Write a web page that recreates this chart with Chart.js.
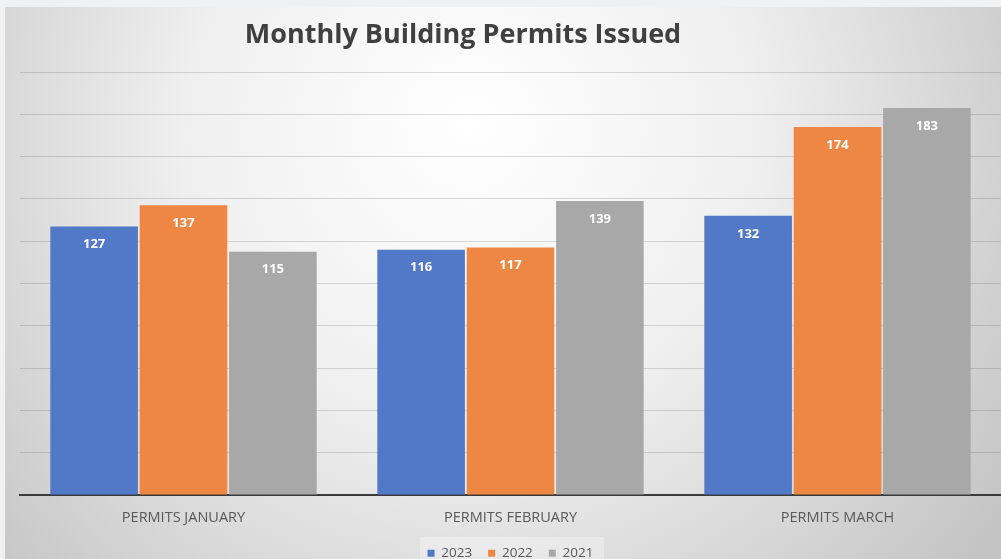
<!DOCTYPE html>
<html>
<head>
<meta charset="utf-8">
<script src="https://cdn.jsdelivr.net/npm/chart.js@4.4.1/dist/chart.umd.min.js"></script>
<style>
  html, body { margin: 0; padding: 0; background: #eef2f3; }
  #wrap { width: 1001px; height: 559px; position: relative; }
</style>
</head>
<body>
<div id="wrap"><canvas id="permitsChart" width="1001" height="559"></canvas></div>
<script>
  // chart data
  const chartTitle = 'Monthly Building Permits Issued';
  const months = ['PERMITS JANUARY', 'PERMITS FEBRUARY', 'PERMITS MARCH'];
  const years = ['2023', '2022', '2021'];
  const permits2023 = [127, 116, 132];
  const permits2022 = [137, 117, 174];
  const permits2021 = [115, 139, 183];
  const barColors = ['#5179c8', '#ed8743', '#a8a8a8'];

  const fontFamily = '"Open Sans", Lato, sans-serif';

  // paints the framed gradient background behind the chart
  const backgroundPlugin = {
    id: 'bgPaint',
    beforeDraw(chart) {
      const ctx = chart.ctx;
      ctx.save();
      ctx.fillStyle = '#eef2f3';
      ctx.fillRect(0, 0, chart.width, chart.height);
      const grad = ctx.createRadialGradient(470, 120, 0, 470, 160, 640);
      grad.addColorStop(0, '#ffffff');
      grad.addColorStop(0.45, '#efefef');
      grad.addColorStop(1, '#c4c4c4');
      ctx.fillStyle = grad;
      ctx.fillRect(5, 7, chart.width - 5, chart.height - 7);
      // lighter strip behind the legend
      ctx.fillStyle = 'rgba(255,255,255,0.3)';
      ctx.fillRect(420, 537, 184, 22);
      ctx.restore();
    }
  };

  // title and the value labels inside the bars
  const textPlugin = {
    id: 'barText',
    afterDatasetsDraw(chart) {
      const ctx = chart.ctx;
      ctx.save();
      ctx.fillStyle = '#404040';
      ctx.font = 'bold 27px ' + fontFamily;
      ctx.textAlign = 'center';
      ctx.textBaseline = 'middle';
      ctx.fillText(chartTitle, 463, 35);

      ctx.fillStyle = '#ffffff';
      ctx.font = 'bold 13px ' + fontFamily;
      chart.data.datasets.forEach((ds, i) => {
        const meta = chart.getDatasetMeta(i);
        meta.data.forEach((bar, j) => {
          ctx.fillText(String(ds.data[j]), bar.x, bar.y + 18);
        });
      });
      ctx.restore();
    }
  };

  function renderPermitsChart() {
    const canvas = document.getElementById('permitsChart');
    const seriesValues = [permits2023, permits2022, permits2021];

    new Chart(canvas, {
      type: 'bar',
      data: {
        labels: months,
        datasets: years.map((year, i) => ({
          label: year,
          data: seriesValues[i],
          backgroundColor: barColors[i],
          borderWidth: 0,
          categoryPercentage: 0.82,
          barPercentage: 0.98
        }))
      },
      options: {
        responsive: false,
        animation: false,
        layout: {
          padding: { left: 20, right: 0, top: 72, bottom: -11 }
        },
        plugins: {
          tooltip: { enabled: false },
          title: { display: false },
          legend: {
            position: 'bottom',
            labels: {
              boxWidth: 7,
              boxHeight: 7,
              padding: 16,
              color: '#595959',
              font: { size: 13.5, family: fontFamily }
            }
          }
        },
        scales: {
          x: {
            grid: { display: false },
            border: { display: true, color: '#3a3a3a', width: 2 },
            ticks: {
              color: '#595959',
              padding: 6,
              font: { size: 14.5, family: fontFamily }
            },
            afterFit(scale) {
              scale.height = 35.5;
            }
          },
          y: {
            min: 0,
            max: 200,
            ticks: { display: false, stepSize: 20 },
            border: { display: false },
            grid: { color: 'rgba(0,0,0,0.13)', lineWidth: 1, drawTicks: false }
          }
        }
      },
      plugins: [backgroundPlugin, textPlugin]
    });
  }

  renderPermitsChart();
</script>
</body>
</html>
